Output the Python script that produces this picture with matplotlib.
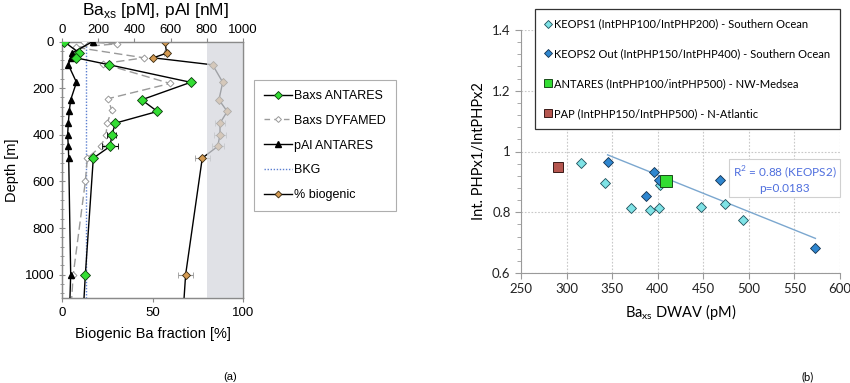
import numpy as np
import matplotlib
matplotlib.use("Agg")
import matplotlib.pyplot as plt
from matplotlib.lines import Line2D
from matplotlib.ticker import MultipleLocator

# ---- panel (a) data : depth profiles ----
depth = [0, 50, 70, 100, 175, 250, 300, 350, 400, 450, 500, 1000, 1500]
baxs_antares = [11, 96, 77, 262, 711, 440, 527, 295, 276, 265, 173, 129, 92]
baxs_antares_err = [0, 0, 0, 0, 0, 0, 0, 0, 25, 45, 0, 0, 0]
pal_antares = [170, 54, 48, 35, 80, 48, 40, 35, 31, 35, 37, 48, 28]
biogenic = [56.9, 57.8, 50.4, 83.2, 88.8, 86.7, 91.3, 87.3, 87.3, 86.0, 77.5, 68.3, 64]
biogenic_err = [0, 1.5, 0, 0, 0, 0, 0, 2.5, 3.3, 3.4, 4.0, 4.3, 0]

dyf_depth = [0, 10, 25, 70, 95, 180, 245, 295, 350, 400, 450, 500, 600, 1000, 1500]
baxs_dyfamed = [120, 302, 77, 453, 225, 597, 256, 274, 250, 243, 215, 140, 129, 62, 20]

bkg = 130

# ---- panel (b) data ----
keops1_x = [316.1, 342.1, 370.2, 391.0, 401.6, 402.7, 448.0, 474.3, 494.0]
keops1_y = [0.963, 0.896, 0.813, 0.806, 0.814, 0.891, 0.817, 0.828, 0.774]
keops2_x = [345.0, 395.4, 401.6, 387.0, 468.1, 572.9]
keops2_y = [0.966, 0.932, 0.906, 0.853, 0.906, 0.682]
antares_x = [409.6]
antares_y = [0.902]
pap_x = [290.9]
pap_y = [0.949]
trend_x = [345, 573]
trend_y = [0.989, 0.714]

fig = plt.figure(figsize=(8.5, 3.83), dpi=100)

# ================= panel (a) =================
arial = "Liberation Sans"
ax = fig.add_axes([62/850, 1-298/383, 181/850, 256.5/383])
ax2 = ax.twiny()

ax.set_xlim(0, 100)
ax.set_ylim(1100, 0)
ax2.set_xlim(0, 1000)

ax.errorbar(biogenic, depth, xerr=biogenic_err, color="black", lw=1,
            marker="D", ms=4, mfc="#d49a52", mec="#3a2a10", mew=0.6,
            ecolor="#999999", elinewidth=0.8, capsize=2.5, capthick=0.8,
            zorder=3)
ax.axvspan(80, 100, color="#d6d8de", alpha=0.75, lw=0, zorder=5)

ax2.errorbar(baxs_antares, depth, xerr=baxs_antares_err, color="black",
             lw=1, marker="D", ms=5, mfc="#33dd33", mec="#0a3a0a",
             mew=0.6, ecolor="black", elinewidth=0.8, capsize=2.5, zorder=4)
ax2.plot(baxs_dyfamed, dyf_depth, color="#9a9a9a", lw=1, ls=(0, (6, 3)),
         marker="D", ms=3.5, mfc="white", mec="#9a9a9a", mew=0.7, zorder=3)
ax2.plot(pal_antares, depth, color="black", lw=1, marker="^", ms=5,
         mfc="black", mec="black", zorder=3)
ax2.axvline(bkg, color="#5b7fd0", lw=1, ls=(0, (1, 1.2)), zorder=2)

for a in (ax, ax2):
    for s in a.spines.values():
        s.set_color("#8a8a8a")
        s.set_linewidth(0.9)

ax.set_xticks([0, 50, 100])
ax.yaxis.set_major_locator(MultipleLocator(200))
ax.yaxis.set_minor_locator(MultipleLocator(40))
ax.tick_params(axis="x", direction="out", length=3, colors="#8a8a8a",
               labelcolor="black", labelsize=9.5)
ax.tick_params(axis="y", which="both", direction="inout", length=4,
               colors="#8a8a8a", labelcolor="black", labelsize=9.5)
ax.tick_params(axis="y", which="minor", length=3)
ax2.set_xticks([0, 200, 400, 600, 800, 1000])
ax2.tick_params(axis="x", direction="out", length=3, colors="#8a8a8a",
                labelcolor="black", labelsize=9.5, pad=1)
for lab in ax.get_xticklabels() + ax.get_yticklabels() + ax2.get_xticklabels():
    lab.set_family(arial)

ax.set_xlabel("Biogenic Ba fraction [%]", family=arial, fontsize=10.5, labelpad=6)
ax.set_ylabel("Depth [m]", family=arial, fontsize=10.5, labelpad=4)
fig.text(155/850, 1-10/383, "Ba$_{\\mathregular{xs}}$ [pM], pAl [nM]",
         family=arial, fontsize=12.5, ha="center", va="center")

# legend proxies (no error caps in the legend)
h_ant = Line2D([], [], color="black", lw=1, marker="D", ms=4, mfc="#33dd33",
               mec="#0a3a0a", mew=0.6)
h_dyf = Line2D([], [], color="#9a9a9a", lw=1, ls=(0, (4, 3)), marker="D", ms=3,
               mfc="white", mec="#9a9a9a", mew=0.7)
h_pal = Line2D([], [], color="black", lw=1, marker="^", ms=4, mfc="black")
h_bkg = Line2D([], [], color="#5b7fd0", lw=1, ls=(0, (1, 1.2)))
h_bio = Line2D([], [], color="black", lw=1, marker="D", ms=3.5, mfc="#d49a52",
               mec="#3a2a10", mew=0.6)

leg1 = fig.legend([h_ant, h_dyf, h_pal, h_bkg, h_bio],
                  ["Baxs ANTARES", "Baxs DYFAMED", "pAl ANTARES", "BKG", "% biogenic"],
                  loc="upper left", bbox_to_anchor=(254/850, 1-80/383),
                  borderaxespad=0,
                  prop={"family": arial, "size": 9}, frameon=True,
                  fancybox=False, edgecolor="#9a9a9a", handlelength=2.2,
                  labelspacing=1.02, borderpad=0.8, handletextpad=0.2)
leg1.get_frame().set_linewidth(0.8)

fig.text(230/850, 1-377/383, "(a)", family=arial, fontsize=8, ha="center", va="center")

# ================= panel (b) =================
lato = "Lato"
bx = fig.add_axes([521/850, 1-273/383, 319/850, 243/383])
bx.set_xlim(250, 600)
bx.set_ylim(0.6, 1.4)
bx.set_xticks(np.arange(250, 601, 50))
bx.set_yticks([0.6, 0.8, 1.0, 1.2, 1.4])
bx.set_yticklabels(["0.6", "0.8", "1", "1.2", "1.4"])
bx.yaxis.set_minor_locator(MultipleLocator(0.04))
bx.grid(True, which="major", color="#c8c8c8", ls=(0, (1.5, 1.5)), lw=0.8)
bx.set_axisbelow(True)
for side in ("top", "right"):
    bx.spines[side].set_visible(False)
for side in ("left", "bottom"):
    bx.spines[side].set_color("#9a9a9a")
bx.tick_params(axis="both", which="both", direction="out", colors="#9a9a9a",
               labelcolor="#222222", labelsize=9.5, length=4)
bx.tick_params(axis="y", which="minor", length=3)
for lab in bx.get_xticklabels() + bx.get_yticklabels():
    lab.set_family(lato)

bx.plot(trend_x, trend_y, color="#7ba7cf", lw=1, zorder=2)
k1, = bx.plot(keops1_x, keops1_y, ls="none", marker="D", ms=5.5,
              mfc="#7fe3e6", mec="#1d4f5a", mew=0.6, zorder=3)
k2, = bx.plot(keops2_x, keops2_y, ls="none", marker="D", ms=5.5,
              mfc="#2f86cf", mec="#12314f", mew=0.6, zorder=3)
an, = bx.plot(antares_x, antares_y, ls="none", marker="s", ms=8,
              mfc="#33dd33", mec="#1a4a1a", mew=0.7, zorder=4)
pp, = bx.plot(pap_x, pap_y, ls="none", marker="s", ms=7,
              mfc="#b5564f", mec="#3a1a18", mew=0.7, zorder=4)

bx.set_xlabel("Ba$_{\\mathregular{xs}}$ DWAV (pM)", family=lato, fontsize=10.5, labelpad=5)
bx.set_ylabel("Int. PHPx1/IntPHPx2", family=lato, fontsize=10.5, labelpad=4)

bx.text(539, 0.909, "R$^{\\mathregular{2}}$ = 0.88 (KEOPS2)\np=0.0183",
        ha="center", va="center", color="#4f6fde",
        family=lato, fontsize=8.5, linespacing=1.15, zorder=5,
        bbox=dict(boxstyle="square,pad=0.3", fc="white", ec="#d0d0d0", lw=0.8))

leg2 = fig.legend([k1, k2, an, pp],
                  ["KEOPS1 (IntPHP100/IntPHP200) - Southern Ocean",
                   "KEOPS2 Out (IntPHP150/IntPHP400) - Southern Ocean",
                   "ANTARES (IntPHP100/intPHP500) - NW-Medsea",
                   "PAP (IntPHP150/IntPHP500) - N-Atlantic"],
                  loc="upper left", bbox_to_anchor=(535/850, 1-9/383),
                  borderaxespad=0,
                  prop={"family": lato, "size": 8}, frameon=True,
                  fancybox=False, edgecolor="#333333", handlelength=0.6,
                  labelspacing=1.7, borderpad=0.85, handletextpad=0.3,
                  markerscale=0.8)
leg2.get_frame().set_linewidth(0.9)
leg2.get_frame().set_alpha(1)

fig.text(808/850, 1-377/383, "(b)", family=lato, fontsize=8, ha="center", va="center")

fig.savefig("out.png", dpi=100)
